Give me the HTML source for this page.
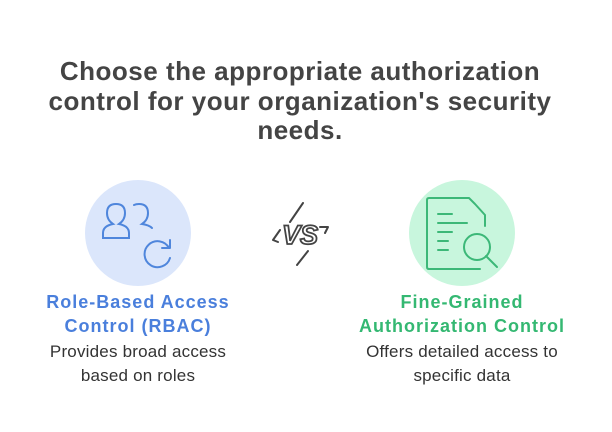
<!DOCTYPE html>
<html><head><style>
body{margin:0;width:612px;height:432px;background:#fff;position:relative;overflow:hidden;font-family:"Liberation Sans",sans-serif;}
.t{position:absolute;left:0;width:600px;text-align:center;font-weight:bold;font-size:26px;letter-spacing:0.5px;color:#444;line-height:29.5px;top:57px;}
.lab{position:absolute;width:320px;text-align:center;font-weight:bold;font-size:18px;letter-spacing:1px;line-height:24px;}
.d{position:absolute;width:320px;text-align:center;font-size:17px;letter-spacing:0.2px;color:#333;line-height:24px;}
</style></head><body>
<div class="t">Choose the appropriate authorization<br>control for your organization's security<br>needs.</div>
<svg width="612" height="432" style="position:absolute;left:0;top:0">
<circle cx="138" cy="233" r="53" fill="#dbe6fb"/>
<circle cx="462" cy="233" r="53" fill="#c8f6dd"/>
<g fill="none" stroke="#4f86dc" stroke-width="2" stroke-linecap="round">
<path d="M103 238 v-5 q0-7 10-9 q-6-4-6-11 q0-9 9-9 q9 0 9 9 q0 7-6 11 q10 2 10 9 v5 z"/>
<path d="M134 205 q2-1 5-1 q9 0 9 9 q0 7-6 11 q7 1 10 4"/>
<path d="M169 248 a13 13 0 1 0 1 10"/>
<path d="M170 248 v-8 M170 248 h-8"/>
</g>
<g fill="none" stroke="#3cb878" stroke-width="2" stroke-linecap="round" stroke-linejoin="round">
<path d="M485 226 v-11 l-10-11 v0 l-6-6 h-40 q-2 0-2 2 v67 q0 2 2 2 h51"/>
<path d="M438 214 h14 M438 223 h29 M438 232 h14 M438 241 h10 M438 250 h10"/>
<circle cx="477" cy="247" r="13"/>
<path d="M486 256 l11 11"/>
</g>
<g fill="none" stroke="#444" stroke-width="2" stroke-linecap="round" stroke-linejoin="round">
<path d="M303 203 l-13 19 M308 251 l-11 14 M280 230 l-7 10 l5 2 M320 227 h8 l-3 6"/>
</g>
<text x="300" y="244" text-anchor="middle" font-family="Liberation Sans" font-weight="bold" font-style="italic" font-size="27" fill="#fff" stroke="#444" stroke-width="1.8">VS</text>
</svg>
<div class="lab" style="left:-22px;top:290px;color:#4a7fdc">Role-Based Access<br>Control (RBAC)</div>
<div class="d" style="left:-22px;top:340px">Provides broad access<br>based on roles</div>
<div class="lab" style="left:302px;top:290px;color:#34b872">Fine-Grained<br>Authorization Control</div>
<div class="d" style="left:302px;top:340px">Offers detailed access to<br>specific data</div>
</body></html>
